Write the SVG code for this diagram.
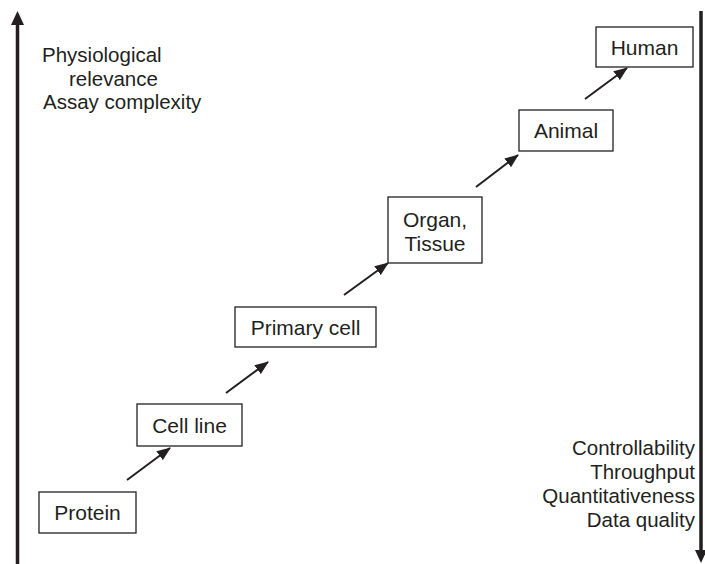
<svg xmlns="http://www.w3.org/2000/svg" width="705" height="564" viewBox="0 0 705 564">
<defs>
<style>
.box{fill:#fff;stroke:#231f20;stroke-width:1.3}
.lbl{font-family:"Liberation Sans",Arial,sans-serif;font-size:21px;fill:#231f20;text-anchor:middle}
.side{font-family:"Liberation Sans",Arial,sans-serif;font-size:20.5px;fill:#231f20}
.conn{stroke:#231f20;stroke-width:2;fill:none}
.axis{stroke:#231f20;stroke-width:3.5;fill:none}
</style>
<marker id="ah" markerWidth="14" markerHeight="11" refX="13" refY="5.5" orient="auto" markerUnits="userSpaceOnUse">
<path d="M0,0 L14,5.5 L0,11 Z" fill="#231f20"/>
</marker>
</defs>
<rect width="705" height="564" fill="#fff"/>
<g id="axes">
<line class="axis" x1="17.5" y1="22" x2="17.5" y2="564"/>
<path d="M11,25 L17.5,11 L24,25 Z" fill="#231f20"/>
<line class="axis" x1="701" y1="11" x2="701" y2="552"/>
<path d="M695,550 L701,563 L707,550 Z" fill="#231f20"/>
</g>
<g id="left-text" class="side">
<text x="42" y="62">Physiological</text>
<text x="69" y="85.5">relevance</text>
<text x="43" y="109">Assay complexity</text>
</g>
<g id="right-text" class="side" text-anchor="end">
<text x="695" y="455">Controllability</text>
<text x="695" y="479">Throughput</text>
<text x="695" y="503">Quantitativeness</text>
<text x="695" y="527">Data quality</text>
</g>
<g id="connectors">
<line class="conn" x1="127" y1="480" x2="170" y2="448" marker-end="url(#ah)"/>
<line class="conn" x1="226" y1="393" x2="268" y2="362" marker-end="url(#ah)"/>
<line class="conn" x1="344" y1="295" x2="388" y2="263" marker-end="url(#ah)"/>
<line class="conn" x1="476" y1="187" x2="518" y2="155" marker-end="url(#ah)"/>
<line class="conn" x1="585" y1="99" x2="627" y2="68" marker-end="url(#ah)"/>
</g>
<g id="protein">
<rect class="box" x="39" y="492" width="97" height="41"/>
<text class="lbl" x="87.5" y="520">Protein</text>
</g>
<g id="cell-line">
<rect class="box" x="137" y="404" width="105" height="42"/>
<text class="lbl" x="189.5" y="432.5">Cell line</text>
</g>
<g id="primary-cell">
<rect class="box" x="235" y="307" width="141" height="40"/>
<text class="lbl" x="305.5" y="334.5">Primary cell</text>
</g>
<g id="organ-tissue">
<rect class="box" x="388" y="197" width="94" height="66"/>
<text class="lbl" x="435" y="226.5">Organ,</text>
<text class="lbl" x="435" y="251">Tissue</text>
</g>
<g id="animal">
<rect class="box" x="519" y="110" width="94" height="41"/>
<text class="lbl" x="566" y="138">Animal</text>
</g>
<g id="human">
<rect class="box" x="596" y="27" width="97" height="40"/>
<text class="lbl" x="644.5" y="54.5">Human</text>
</g>
</svg>
